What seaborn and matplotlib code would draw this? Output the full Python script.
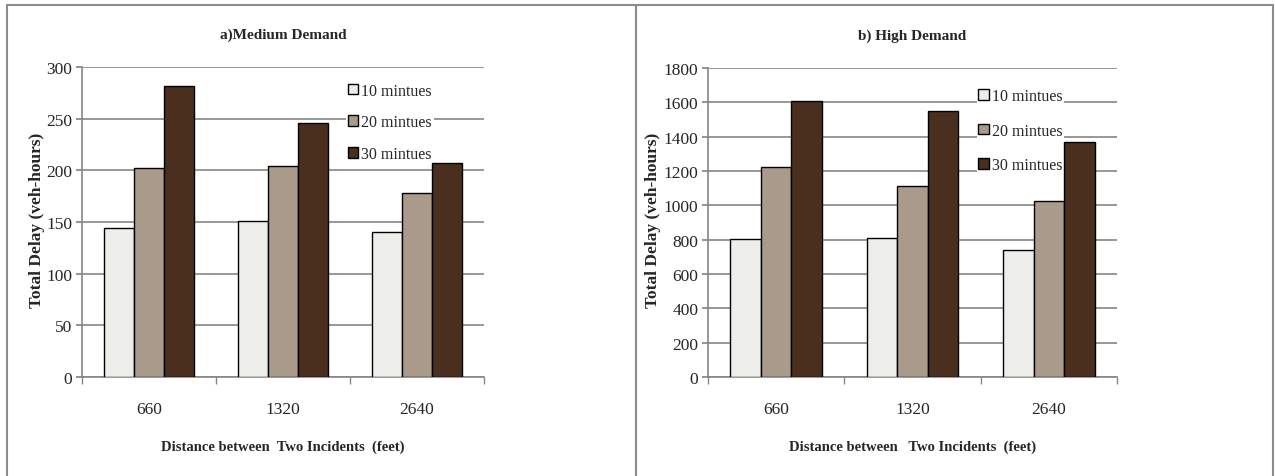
import matplotlib
matplotlib.use("Agg")
import matplotlib.pyplot as plt
import seaborn as sns
import pandas as pd
from matplotlib.lines import Line2D

distances = ["660", "1320", "2640"]
durations = ["10 mintues", "20 mintues", "30 mintues"]
medium_10 = [144, 151, 140]
medium_20 = [202, 204, 178]
medium_30 = [282, 246, 207]
high_10 = [806, 808, 740]
high_20 = [1225, 1112, 1028]
high_30 = [1608, 1548, 1370]
colors = ["#EDEDEA", "#A99A8C", "#4A2F1F"]

def make_df(v10, v20, v30):
    rows = []
    for dur, vals in zip(durations, [v10, v20, v30]):
        for d, v in zip(distances, vals):
            rows.append({"Distance": d, "Duration": dur, "Delay": v})
    return pd.DataFrame(rows)

sns.set_theme(style="white")
plt.rcParams["font.family"] = ["Liberation Serif", "DejaVu Serif"]

fig = plt.figure(figsize=(12.75, 4.77), dpi=100)
W, H = 1275, 477

def fx(px):
    return px / W

def fy(py):
    return 1 - py / H

# panel borders
border_col = "#8C8C8C"
for (x0, x1) in [(7, 636), (636, 1273)]:
    fig.add_artist(Line2D([fx(x0), fx(x0)], [fy(6), 0], color=border_col, lw=1.5, transform=fig.transFigure))
    fig.add_artist(Line2D([fx(x1), fx(x1)], [fy(6), 0], color=border_col, lw=1.5, transform=fig.transFigure))
    fig.add_artist(Line2D([fx(x0), fx(x1)], [fy(6), fy(6)], color=border_col, lw=1.5, transform=fig.transFigure))

panels = [
    dict(x0=82, x1=484, ytop=68, data=make_df(medium_10, medium_20, medium_30), ymax=300, step=50,
         title="a)Medium Demand", leg=(0.657, 0.955), lsp=0.98, ylab_x=37,
         xlabel="Distance between  Two Incidents  (feet)"),
    dict(x0=708, x1=1117, ytop=69, data=make_df(high_10, high_20, high_30), ymax=1800, step=200,
         title="b) High Demand", leg=(0.657, 0.94), lsp=1.15, ylab_x=653,
         xlabel="Distance between   Two Incidents  (feet)"),
]

grid_col = "#868686"
for p in panels:
    ax = fig.add_axes([fx(p["x0"]), fy(378), fx(p["x1"]) - fx(p["x0"]), fy(p["ytop"]) - fy(378)])
    sns.barplot(data=p["data"], x="Distance", y="Delay", hue="Duration",
                palette=colors, width=0.67, edgecolor="black", linewidth=1.0,
                ax=ax, zorder=3, saturation=1)
    ax.set_ylim(0, p["ymax"])
    ax.set_yticks(range(0, p["ymax"] + 1, p["step"]))
    ax.set_xlim(-0.5, 2.5)
    ax.yaxis.grid(True, color=grid_col, lw=1.2, zorder=0)
    ax.set_axisbelow(True)
    for s in ["top", "right"]:
        ax.spines[s].set_visible(False)
    for s in ["left", "bottom"]:
        ax.spines[s].set_color(grid_col)
        ax.spines[s].set_linewidth(1.2)
    ax.tick_params(axis="y", left=True, length=4, color=grid_col, labelsize=12.5, pad=3)
    ax.tick_params(axis="x", bottom=False, labelsize=12.5, pad=11)
    ax.set_xticks([0, 1, 2])
    ax.set_xticks([-0.5, 0.5, 1.5, 2.5], minor=True)
    ax.tick_params(axis="x", which="minor", bottom=True, length=5, color=grid_col)
    axw = p["x1"] - p["x0"]
    ax.set_xlabel(p["xlabel"], fontsize=10.5, fontweight="bold")
    ax.xaxis.set_label_coords(0.5, (378 - 447) / 310.0, transform=ax.transAxes)
    ax.xaxis.label.set_va("center")
    ax.set_ylabel("Total Delay (veh-hours)", fontsize=12.5, fontweight="bold")
    ax.yaxis.set_label_coords((p["ylab_x"] - p["x0"]) / axw, 0.51, transform=ax.transAxes)
    ax.yaxis.label.set_va("center")
    ax.set_title(p["title"], fontsize=11, fontweight="bold", pad=21)
    leg = ax.legend(loc="upper left", bbox_to_anchor=p["leg"], frameon=True,
                    fontsize=11.5, handlelength=0.65, handleheight=0.65,
                    handletextpad=0.2, labelspacing=p["lsp"], borderpad=0.1,
                    borderaxespad=0)
    leg.get_frame().set_facecolor("white")
    leg.get_frame().set_edgecolor("none")
    leg.get_frame().set_alpha(1)
    leg.set_zorder(2.5)

fig.savefig("out.png", dpi=100)
